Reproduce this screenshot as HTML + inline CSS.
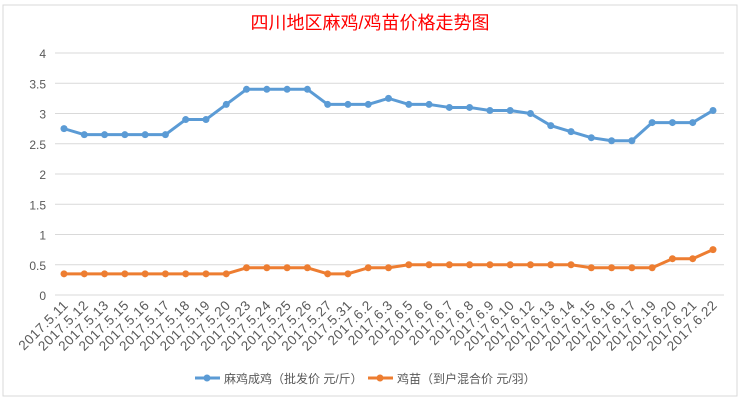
<!DOCTYPE html>
<html><head><meta charset="utf-8"><style>
body{margin:0;background:#fff;}
svg{display:block;font-family:"Liberation Sans","Noto Sans CJK SC",sans-serif;}
</style></head><body>
<svg id="c" width="742" height="403">
<rect x="3" y="5" width="734" height="391" fill="#fff" stroke="#d9d9d9"/>
<text x="370" y="29" text-anchor="middle" font-size="18" fill="#ff0000">四川地区麻鸡/鸡苗价格走势图</text>
<g id="grid"></g><g id="xl"></g><g id="series"></g>
<g>
<g><line x1="195" y1="378" x2="220" y2="378" stroke="#5b9bd5" stroke-width="3"/><circle cx="207" cy="378" r="3.5" fill="#5b9bd5"/><text x="224" y="383" font-size="12" fill="#595959">麻鸡成鸡（批发价 元/斤）</text></g>
<g><line x1="368" y1="378" x2="393" y2="378" stroke="#ed7d31" stroke-width="3"/><circle cx="380" cy="378" r="3.5" fill="#ed7d31"/><text x="397" y="383" font-size="12" fill="#595959">鸡苗（到户混合价 元/羽）</text></g>
</g>
</svg>
<script>
const categories=["2017.5.11","2017.5.12","2017.5.13","2017.5.15","2017.5.16","2017.5.17","2017.5.18","2017.5.19","2017.5.20","2017.5.23","2017.5.24","2017.5.25","2017.5.26","2017.5.27","2017.5.31","2017.6.2","2017.6.3","2017.6.5","2017.6.6","2017.6.7","2017.6.8","2017.6.9","2017.6.10","2017.6.12","2017.6.13","2017.6.14","2017.6.15","2017.6.16","2017.6.17","2017.6.19","2017.6.20","2017.6.21","2017.6.22"];
const adultPrice=[2.75,2.65,2.65,2.65,2.65,2.65,2.9,2.9,3.15,3.4,3.4,3.4,3.4,3.15,3.15,3.15,3.25,3.15,3.15,3.1,3.1,3.05,3.05,3.0,2.8,2.7,2.6,2.55,2.55,2.85,2.85,2.85,3.05];
const chickPrice=[0.35,0.35,0.35,0.35,0.35,0.35,0.35,0.35,0.35,0.45,0.45,0.45,0.45,0.35,0.35,0.45,0.45,0.5,0.5,0.5,0.5,0.5,0.5,0.5,0.5,0.5,0.45,0.45,0.45,0.45,0.6,0.6,0.75];
const yTicks=[0,0.5,1,1.5,2,2.5,3,3.5,4];
const NS="http://www.w3.org/2000/svg";
const x0=64,x1=713,yTop=53,yBot=295,yMax=4;
const xS=i=>x0+(x1-x0)*i/(categories.length-1);
const yS=v=>yBot-(yBot-yTop)*v/yMax;
function mk(t,a,p){const e=document.createElementNS(NS,t);for(const k in a)e.setAttribute(k,a[k]);p.appendChild(e);return e;}
const grid=document.getElementById('grid');
yTicks.forEach(v=>{
 const l=mk('line',{x1:55,x2:724,y1:yS(v),y2:yS(v),stroke:'#d9d9d9'},grid);
 
 
 const t=mk('text',{x:46,y:yS(v)+5,'text-anchor':'end','font-size':12,fill:'#595959'},grid);
 t.textContent=String(v);
 
 
});
const xl=document.getElementById('xl');
categories.forEach((c,i)=>{
 const t=mk('text',{x:xS(i)+5,y:306,'text-anchor':'end','font-size':13.5,'letter-spacing':'0.5',fill:'#595959',transform:`rotate(-45 ${xS(i)+5} 306)`},xl);
 t.textContent=c;
 
 
});
const sg=document.getElementById('series');
[[adultPrice,'#5b9bd5','series-adult'],[chickPrice,'#ed7d31','series-chick']].forEach(([d,col,nm])=>{
 const g=mk('g',{},sg);
 
 
 const p=mk('polyline',{points:d.map((v,i)=>xS(i)+','+yS(v)).join(' '),fill:'none',stroke:col,'stroke-width':3,'stroke-linejoin':'round'},g);
 
 
 d.forEach((v,i)=>{
  const c=mk('circle',{cx:xS(i),cy:yS(v),r:3.5,fill:col},g);
  
  
 });
});
</script>
</body></html>
